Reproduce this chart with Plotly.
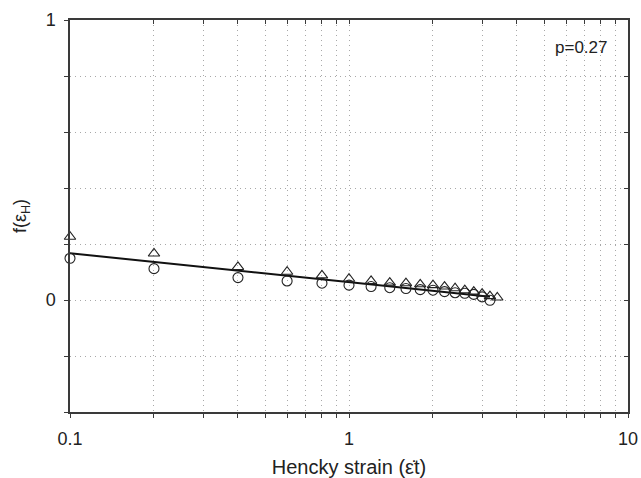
import plotly.graph_objects as go

# Hencky strain values where f(eps_H) was evaluated
strain_tri = [0.1, 0.2, 0.4, 0.6, 0.8, 1.0, 1.2, 1.4, 1.6, 1.8, 2.0, 2.2, 2.4, 2.6, 2.8, 3.0, 3.2, 3.4]
f_tri = [0.226, 0.166, 0.118, 0.101, 0.088, 0.076, 0.068, 0.062, 0.060, 0.056, 0.053, 0.048, 0.042, 0.035, 0.030, 0.023, 0.014, 0.009]

strain_circ = [0.1, 0.2, 0.4, 0.6, 0.8, 1.0, 1.2, 1.4, 1.6, 1.8, 2.0, 2.2, 2.4, 2.6, 2.8, 3.0, 3.2]
f_circ = [0.149, 0.112, 0.080, 0.068, 0.060, 0.053, 0.048, 0.044, 0.041, 0.037, 0.035, 0.030, 0.026, 0.024, 0.020, 0.011, -0.001]

# fitted line, straight on the log strain axis
fit_strain = [0.1, 3.2]
fit_f = [0.167, 0.012]

x_ticks = [0.1, 0.2, 0.3, 0.4, 0.5, 0.6, 0.7, 0.8, 0.9,
           1, 2, 3, 4, 5, 6, 7, 8, 9, 10]
x_labels = ["0.1"] + [""] * 8 + ["1"] + [""] * 8 + ["10"]
y_ticks = [-0.4, -0.2, 0, 0.2, 0.4, 0.6, 0.8, 1.0]
y_labels = ["", "", "0", "", "", "", "", "1"]

FONT = "Liberation Sans, Arial, sans-serif"
AXIS_COLOR = "#3a3a3a"
GRID_COLOR = "#a8a8a8"
GRID_DASH = "1px,4px"

fig = go.Figure()
fig.add_trace(go.Scatter(
    x=fit_strain, y=fit_f, mode="lines",
    line=dict(color="#111111", width=2), showlegend=False, hoverinfo="skip"))
fig.add_trace(go.Scatter(
    x=strain_tri, y=f_tri, mode="markers", cliponaxis=False,
    marker=dict(symbol="triangle-up-open", size=10, color="#222222", line=dict(width=1.1)),
    showlegend=False))
fig.add_trace(go.Scatter(
    x=strain_circ, y=f_circ, mode="markers", cliponaxis=False,
    marker=dict(symbol="circle-open", size=10, color="#222222", line=dict(width=1.1)),
    showlegend=False))
# carrier for the mirrored top/right axes
fig.add_trace(go.Scatter(
    x=[1], y=[0], xaxis="x2", yaxis="y2", mode="markers",
    marker=dict(opacity=0), showlegend=False, hoverinfo="skip"))

fig.update_layout(
    width=641, height=478,
    margin=dict(l=70, r=13, t=20, b=66),
    paper_bgcolor="white", plot_bgcolor="white",
    font=dict(family=FONT, size=18, color="#222222"),
    xaxis=dict(
        type="log", range=[-1, 1], automargin=False,
        tickmode="array", tickvals=x_ticks, ticktext=x_labels,
        ticks="outside", ticklen=4, tickcolor=AXIS_COLOR, tickwidth=1.2,
        ticklabelstandoff=6,
        showline=True, linecolor=AXIS_COLOR, linewidth=1.5,
        showgrid=True, gridcolor=GRID_COLOR, griddash=GRID_DASH, gridwidth=1,
        zeroline=False,
        title=dict(text="Hencky strain (ε̇t)", standoff=12, font=dict(size=20)),
        tickfont=dict(size=18),
    ),
    yaxis=dict(
        range=[-0.4, 1.0], automargin=False,
        tickmode="array", tickvals=y_ticks, ticktext=y_labels,
        ticks="outside", ticklen=4, tickcolor=AXIS_COLOR, tickwidth=1.2,
        ticklabelstandoff=5,
        showline=True, linecolor=AXIS_COLOR, linewidth=1.5,
        showgrid=True, gridcolor=GRID_COLOR, griddash=GRID_DASH, gridwidth=1,
        zeroline=False,
        title=dict(text="f(ε<sub>H</sub>)", standoff=14, font=dict(size=18)),
        tickfont=dict(size=18),
    ),
    xaxis2=dict(
        type="log", range=[-1, 1], overlaying="x", side="top", automargin=False,
        tickmode="array", tickvals=x_ticks, showticklabels=False,
        ticks="inside", ticklen=4, tickcolor=AXIS_COLOR, tickwidth=1.2,
        showline=True, linecolor=AXIS_COLOR, linewidth=1.5,
        showgrid=False, zeroline=False,
    ),
    yaxis2=dict(
        range=[-0.4, 1.0], overlaying="y", side="right", automargin=False,
        tickmode="array", tickvals=y_ticks, showticklabels=False,
        ticks="inside", ticklen=4, tickcolor=AXIS_COLOR, tickwidth=1.2,
        showline=True, linecolor=AXIS_COLOR, linewidth=1.5,
        showgrid=False, zeroline=False,
    ),
    annotations=[dict(
        text="p=0.27", xref="paper", yref="paper",
        x=0.966, y=0.93, xanchor="right", yanchor="middle",
        showarrow=False, font=dict(size=17, color="#222222"),
    )],
)

fig.write_html("out.html")
